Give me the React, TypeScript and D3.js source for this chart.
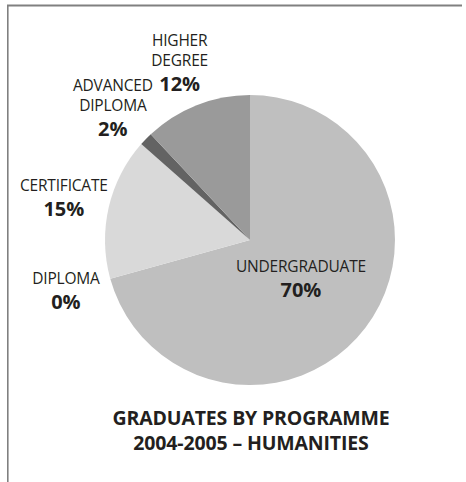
import React from "react";
import * as d3 from "d3";

const categories = ["UNDERGRADUATE", "DIPLOMA", "CERTIFICATE", "ADVANCED DIPLOMA", "HIGHER DEGREE"];
const nameLines = [["UNDERGRADUATE"], ["DIPLOMA"], ["CERTIFICATE"], ["ADVANCED", "DIPLOMA"], ["HIGHER", "DEGREE"]];
const values = [70.7, 0, 15.8, 1.5, 12.0];
const percentLabels = ["70%", "0%", "15%", "2%", "12%"];
const colors = ["#bfbfbf", "#bfbfbf", "#d9d9d9", "#636363", "#9a9a9a"];
const titleLines = ["GRADUATES BY PROGRAMME", "2004-2005 \u2013 HUMANITIES"];

const W = 466;
const H = 482;
const cx = 250;
const cy = 240;
const R = 145;

export default function App() {
  const data = categories.map((c, i) => ({ c, i, v: values[i] }));
  const pie = d3.pie<any>().value((d) => d.v).sort(null);
  const arcs = pie(data);
  const arc = d3.arc<any>().innerRadius(0).outerRadius(R);
  const labelArcOut = d3.arc<any>().innerRadius(191).outerRadius(191);
  const labelArcIn = d3.arc<any>().innerRadius(64).outerRadius(64);
  const font = "'Open Sans', 'Noto Sans', sans-serif";

  return (
    <svg
      width={W}
      height={H}
      style={{ position: "absolute", left: 0, top: 0, background: "#fff" }}
    >
      <line x1={7} y1={5.5} x2={462} y2={5.5} stroke="#808080" strokeWidth={2} />
      <line x1={7.8} y1={5} x2={7.8} y2={H} stroke="#808080" strokeWidth={1.6} />
      <g transform={`translate(${cx},${cy})`}>
        {arcs.map((a, k) => (
          <path key={k} d={arc(a) || ""} fill={colors[a.data.i]} />
        ))}
      </g>
      {arcs.map((a, k) => {
        const i = a.data.i;
        const inside = a.data.v > 50;
        const [lx, ly] = (inside ? labelArcIn : labelArcOut).centroid(a);
        const lines = nameLines[i];
        const n = lines.length;
        const y0 = cy + ly - ((n - 1) * 20 + 13) / 2;
        const x = cx + lx;
        return (
          <g key={"l" + k} fill="#231f20" textAnchor="middle" fontFamily={font}>
            {lines.map((t, j) => (
              <text key={j} x={x} y={y0 + j * 20} fontSize={15.5} style={{ letterSpacing: "-0.2px" }}>
                {t}
              </text>
            ))}
            <text x={x} y={y0 + (n - 1) * 20 + 25} fontSize={20} fontWeight={700}>
              {percentLabels[i]}
            </text>
          </g>
        );
      })}
      {titleLines.map((t, j) => (
        <text
          key={"t" + j}
          x={251}
          y={425 + j * 25}
          textAnchor="middle"
          fontFamily={font}
          fontWeight={700}
          fontSize={19.5}
          fill="#231f20"
          style={{ letterSpacing: "-0.15px" }}
        >
          {t}
        </text>
      ))}
    </svg>
  );
}
